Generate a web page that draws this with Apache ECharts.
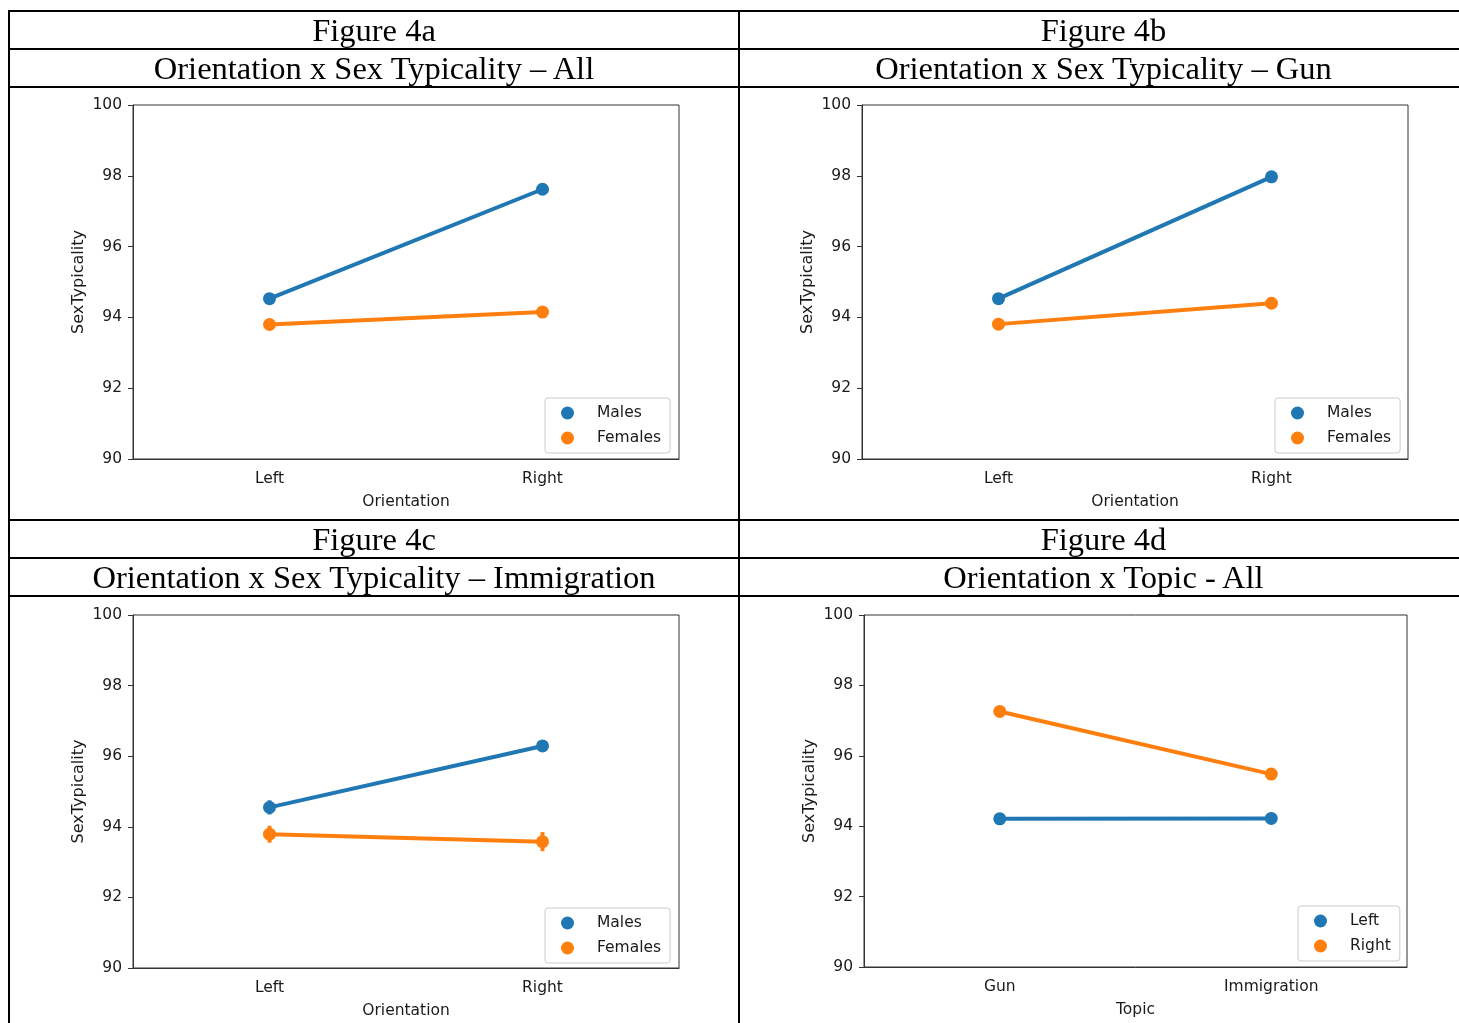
<!DOCTYPE html>
<html>
<head>
<meta charset="utf-8">
<title>Figure 4</title>
<script src="https://cdn.jsdelivr.net/npm/echarts@6/dist/echarts.min.js"></script>
<style>
  html, body { margin: 0; padding: 0; background: #fff; }
  #page { position: relative; width: 1459px; height: 1023px; overflow: hidden; background: #fff; }
  #chart { position: absolute; left: 0; top: 0; width: 1459px; height: 1023px; }
  .rule { position: absolute; background: #000; }
  .cell { position: absolute; text-align: center; white-space: nowrap; color: #000;
          font-family: "Liberation Serif", "Times New Roman", serif; font-size: 32.5px; }
</style>
</head>
<body>
<div id="page">
  <div id="chart"></div>

  <!-- table rules -->
  <div class="rule" style="left:8px;top:10px;width:1460px;height:2px"></div>
  <div class="rule" style="left:8px;top:48px;width:1460px;height:2px"></div>
  <div class="rule" style="left:8px;top:86px;width:1460px;height:2px"></div>
  <div class="rule" style="left:8px;top:519px;width:1460px;height:2px"></div>
  <div class="rule" style="left:8px;top:557px;width:1460px;height:2px"></div>
  <div class="rule" style="left:8px;top:595px;width:1460px;height:2px"></div>
  <div class="rule" style="left:8px;top:10px;width:2px;height:1020px"></div>
  <div class="rule" style="left:738px;top:10px;width:2px;height:1020px"></div>

  <!-- table headings -->
  <div class="cell" style="left:10px;width:728px;top:12px;height:36px;line-height:36px">Figure 4a</div>
  <div class="cell" style="left:10px;width:728px;top:50px;height:36px;line-height:36px">Orientation x Sex Typicality – All</div>
  <div class="cell" style="left:740px;width:727px;top:12px;height:36px;line-height:36px">Figure 4b</div>
  <div class="cell" style="left:740px;width:727px;top:50px;height:36px;line-height:36px">Orientation x Sex Typicality – Gun</div>
  <div class="cell" style="left:10px;width:728px;top:521px;height:36px;line-height:36px">Figure 4c</div>
  <div class="cell" style="left:10px;width:728px;top:559px;height:36px;line-height:36px">Orientation x Sex Typicality – Immigration</div>
  <div class="cell" style="left:740px;width:727px;top:521px;height:36px;line-height:36px">Figure 4d</div>
  <div class="cell" style="left:740px;width:727px;top:559px;height:36px;line-height:36px">Orientation x Topic - All</div>
</div>

<script>
// Categories
const orientation = ['Left', 'Right'];
const topics = ['Gun', 'Immigration'];

// Y scale (SexTypicality)
const yMin = 90;
const yMax = 100;
const yStep = 2;

// Figure 4a – all topics
const males4a = [94.53, 97.62];
const females4a = [93.80, 94.15];

// Figure 4b – gun
const males4b = [94.53, 97.97];
const females4b = [93.81, 94.40];

// Figure 4c – immigration (means and CI half-widths)
const males4c = [94.55, 96.29];
const females4c = [93.79, 93.58];
const malesCi4c = [0.20, 0.12];
const femalesCi4c = [0.24, 0.27];

// Figure 4d – by topic
const left4d = [94.21, 94.22];
const right4d = [97.26, 95.48];

const BLUE = '#1f77b4';
const ORANGE = '#ff7f0e';
const SANS = 'DejaVu Sans';
const INK = '#1a1a1a';
const FS = 15.5;

// plot areas, one per panel
const panels = [
  { grid: { left: 133, top: 105, width: 546, height: 354 }, cats: orientation, xName: 'Orientation',
    legendPos: { left: 545, top: 398 }, names: ['Males', 'Females'], a: males4a, b: females4a },
  { grid: { left: 862, top: 105, width: 546, height: 354 }, cats: orientation, xName: 'Orientation',
    legendPos: { left: 1275, top: 398 }, names: ['Males', 'Females'], a: males4b, b: females4b },
  { grid: { left: 133, top: 615, width: 546, height: 353 }, cats: orientation, xName: 'Orientation',
    legendPos: { left: 545, top: 908 }, names: ['Males', 'Females'], a: males4c, b: females4c,
    ciA: malesCi4c, ciB: femalesCi4c },
  { grid: { left: 864, top: 615, width: 543, height: 352 }, cats: topics, xName: 'Topic',
    legendPos: { left: 1298, top: 906 }, names: ['Left', 'Right'], a: left4d, b: right4d }
];

const grids = [], xAxes = [], yAxes = [], legends = [], series = [];

panels.forEach((p, i) => {
  grids.push(Object.assign({ show: true, borderColor: '#333', borderWidth: 1, backgroundColor: '#fff' }, p.grid));

  xAxes.push({
    type: 'category', gridIndex: i, data: p.cats, boundaryGap: true,
    name: p.xName, nameLocation: 'middle', nameGap: 35,
    nameTextStyle: { fontFamily: SANS, fontSize: FS, color: INK },
    axisLine: { lineStyle: { color: '#333', width: 1 } },
    axisTick: { alignWithLabel: true, length: 5, lineStyle: { color: '#333' } },
    axisLabel: { fontFamily: SANS, fontSize: FS, color: INK, margin: 12 },
    splitLine: { show: false }
  });

  yAxes.push({
    type: 'value', gridIndex: i, min: yMin, max: yMax, interval: yStep,
    name: 'SexTypicality', nameLocation: 'middle', nameGap: 46, nameRotate: 90,
    nameTextStyle: { fontFamily: SANS, fontSize: 16, color: INK },
    axisLine: { show: true, lineStyle: { color: '#333', width: 1 } },
    axisTick: { show: true, length: 5, lineStyle: { color: '#333' } },
    axisLabel: { fontFamily: SANS, fontSize: FS, color: INK, margin: 11 },
    splitLine: { show: false }
  });

  legends.push({
    data: p.names.map(n => ({ name: n, icon: 'circle' })),
    orient: 'vertical', left: p.legendPos.left, top: p.legendPos.top,
    itemWidth: 13, itemHeight: 13, itemGap: 9,
    padding: [7, 9, 7, 16],
    backgroundColor: '#fff', borderColor: '#cccccc', borderWidth: 1, borderRadius: 3,
    itemStyle: { borderWidth: 0 },
    textStyle: { fontFamily: SANS, fontSize: FS, color: INK, padding: [0, 0, 0, 18] },
    selectedMode: false
  });

  [[p.names[0], p.a, BLUE, p.ciA], [p.names[1], p.b, ORANGE, p.ciB]].forEach(([name, vals, color, ci]) => {
    series.push({
      type: 'line', name: name, xAxisIndex: i, yAxisIndex: i, data: vals,
      symbol: 'circle', symbolSize: 13, showSymbol: true,
      lineStyle: { color: color, width: 4 },
      itemStyle: { color: color, borderWidth: 0 },
      emphasis: { disabled: true }, animation: false, z: 3
    });
    if (ci) {
      // confidence interval whiskers
      series.push({
        type: 'custom', name: name + ' CI', xAxisIndex: i, yAxisIndex: i,
        data: vals.map((v, k) => [k, v - ci[k], v + ci[k]]),
        renderItem: (params, api) => {
          const lo = api.coord([api.value(0), api.value(1)]);
          const hi = api.coord([api.value(0), api.value(2)]);
          return { type: 'line', shape: { x1: lo[0], y1: lo[1], x2: hi[0], y2: hi[1] },
                   style: { stroke: color, lineWidth: 4 } };
        },
        animation: false, z: 2, silent: true
      });
    }
  });
});

const chart = echarts.init(document.getElementById('chart'), null, { renderer: 'canvas' });
chart.setOption({
  animation: false,
  backgroundColor: '#fff',
  grid: grids,
  xAxis: xAxes,
  yAxis: yAxes,
  legend: legends,
  series: series
});
</script>
</body>
</html>
